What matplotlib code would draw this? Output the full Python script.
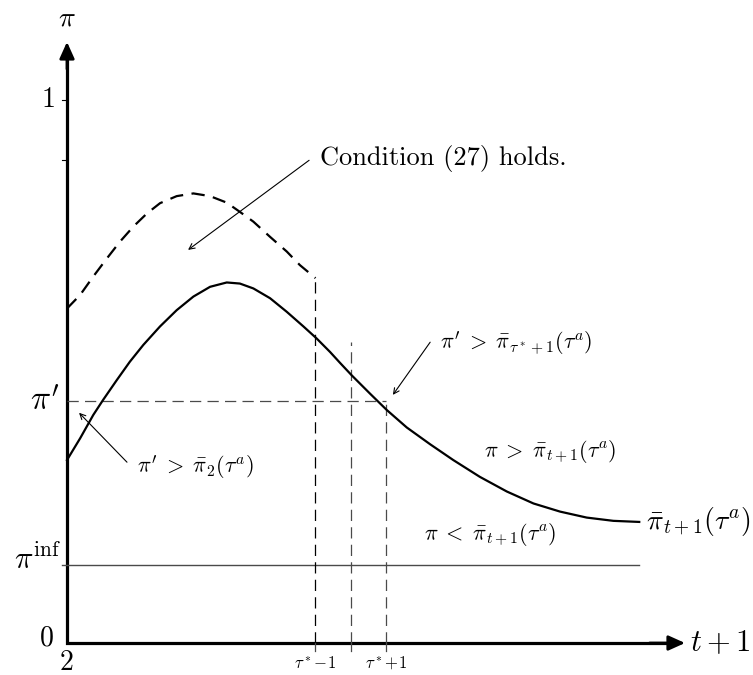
import matplotlib.pyplot as plt

plt.rcParams['mathtext.fontset'] = 'cm'
plt.rcParams['font.family'] = 'serif'
plt.rcParams['font.serif'] = ['cmr10', 'DejaVu Serif']
plt.rcParams['axes.formatter.use_mathtext'] = True

# threshold curve pi_bar_{t+1}(tau^a)
t_solid = [2.0, 2.37, 2.74, 3.02, 3.40, 3.77, 4.15, 4.62, 5.09, 5.56, 6.03, 6.50,
           6.87, 7.25, 7.72, 8.19, 8.66, 9.03, 9.41, 9.69, 10.02, 10.54, 11.01,
           11.57, 12.23, 12.88, 13.63, 14.39, 15.14, 15.89, 16.64, 17.39, 18.12]
pi_solid = [0.337, 0.377, 0.420, 0.448, 0.484, 0.518, 0.549, 0.583, 0.613, 0.638,
            0.656, 0.664, 0.662, 0.653, 0.635, 0.610, 0.583, 0.561, 0.536, 0.516,
            0.493, 0.459, 0.429, 0.397, 0.366, 0.337, 0.306, 0.279, 0.257, 0.242,
            0.231, 0.225, 0.223]

# region where condition (27) holds
t_dashed = [2.0, 2.37, 2.74, 3.12, 3.49, 3.87, 4.25, 4.62, 5.09, 5.56, 6.03, 6.50,
            6.87, 7.25, 7.72, 8.19, 8.56, 9.0]
pi_dashed = [0.616, 0.641, 0.675, 0.708, 0.739, 0.767, 0.791, 0.810, 0.823, 0.828,
             0.823, 0.811, 0.794, 0.776, 0.748, 0.721, 0.696, 0.672]

pi_prime = 0.445
pi_inf = 0.144
tau_star = 10
y_ticks = [1.0, 0.89]
x_marks = [tau_star - 1, tau_star, tau_star + 1]
x_mark_labels = [r'$\tau^*\!-\!1$', '', r'$\tau^*\!+\!1$']
x_end = 19.41
y_end = 1.107

fig = plt.figure(figsize=(7.53, 6.75), dpi=100)
ax = fig.add_axes([0, 0, 1, 1])
ax.set_xlim(0.1127, 21.324)
ax.set_ylim(-0.0589, 1.1842)
ax.axis('off')

gray = '#4a4a4a'

# axes with arrow heads
ax.plot([2, 2, x_end - 0.3], [y_end - 0.02, 0, 0], color='k', lw=2.3,
        solid_joinstyle='miter', solid_capstyle='butt')
head = dict(arrowstyle='-|>,head_length=1.0,head_width=0.45', lw=2.0, color='k',
            shrinkA=0, shrinkB=0)
ax.annotate('', xy=(2, y_end), xytext=(2, y_end - 0.05), arrowprops=head)
ax.annotate('', xy=(x_end, 0), xytext=(x_end - 1.0, 0), arrowprops=head)

# y ticks
for yt in y_ticks:
    ax.plot([1.86, 2], [yt, yt], color='k', lw=0.8)

# reference levels
ax.plot([1.86, 18.12], [pi_inf, pi_inf], color=gray, lw=1.0)
ax.plot([2, tau_star + 1], [pi_prime, pi_prime], color=gray, lw=0.9,
        linestyle=(0, (9, 5)))

# vertical guides
ax.plot([tau_star - 1, tau_star - 1], [0, pi_dashed[-1]], color='k', lw=0.9,
        linestyle=(0, (9, 5)))
ax.plot([tau_star, tau_star], [0, 0.554], color=gray, lw=0.9,
        linestyle=(0, (9, 5)))
ax.plot([tau_star + 1, tau_star + 1], [0, pi_prime], color=gray, lw=0.9,
        linestyle=(0, (9, 5)))
for xm, lab in zip(x_marks, x_mark_labels):
    ax.plot([xm, xm], [0, -0.014], color=gray, lw=0.9)
    ax.text(xm, -0.037, lab, fontsize=12, ha='center', va='center')

# curves
ax.plot(t_dashed, pi_dashed, color='k', lw=1.6, linestyle=(0, (6, 3.8)))
ax.plot(t_solid, pi_solid, color='k', lw=1.6)

# axis labels
ax.text(2, 1.151, r'$\pi$', fontsize=20, ha='center', va='center')
ax.text(1.69, 1.0, '1', fontsize=20, ha='right', va='center')
ax.text(1.62, 0.008, '0', fontsize=20, ha='right', va='center')
ax.text(2, -0.036, '2', fontsize=20, ha='center', va='center')
ax.text(1.8, pi_prime, r"$\pi'$", fontsize=24, ha='right', va='center')
ax.text(1.83, pi_inf + 0.01, r'$\pi^{\mathrm{inf}}$', fontsize=22, ha='right', va='center')
ax.text(19.55, 0.0, r'$t+1$', fontsize=22, ha='left', va='center')

# annotations
arrow = dict(arrowstyle='->', lw=0.8, color='k', shrinkA=0, shrinkB=0)
ax.text(9.13, 0.893, 'Condition (27) holds.', fontsize=19, ha='left', va='center')
ax.annotate('', xy=(5.41, 0.724), xytext=(8.82, 0.889), arrowprops=arrow)

ax.text(12.51, 0.552, r"$\pi' \;>\; \bar{\pi}_{\tau^*+1}(\tau^a)$", fontsize=16,
        ha='left', va='center')
ax.annotate('', xy=(11.18, 0.457), xytext=(12.23, 0.554), arrowprops=arrow)

ax.text(3.97, 0.324, r"$\pi' \;>\; \bar{\pi}_2(\tau^a)$", fontsize=16,
        ha='left', va='center')
ax.annotate('', xy=(2.34, 0.424), xytext=(3.69, 0.333), arrowprops=arrow)

ax.text(15.6, 0.352, r'$\pi \;>\; \bar{\pi}_{t+1}(\tau^a)$', fontsize=16,
        ha='center', va='center')
ax.text(13.92, 0.199, r'$\pi \;<\; \bar{\pi}_{t+1}(\tau^a)$', fontsize=16,
        ha='center', va='center')
ax.text(18.3, 0.223, r'$\bar{\pi}_{t+1}(\tau^a)$', fontsize=20,
        ha='left', va='center')

fig.savefig('out.png', dpi=100)
